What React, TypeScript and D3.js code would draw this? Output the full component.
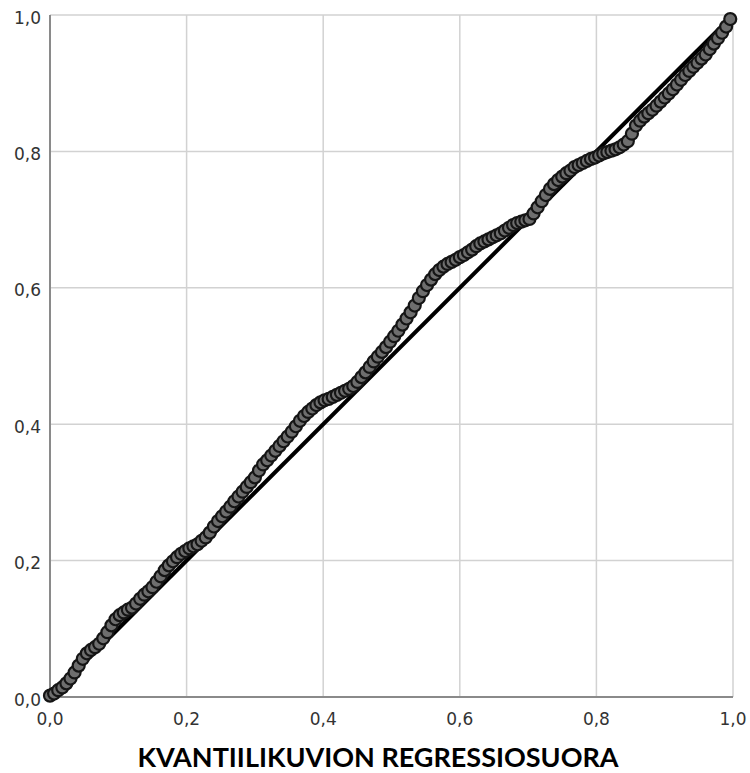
import React from "react";
import * as d3 from "d3";

const ticks = [0, 0.2, 0.4, 0.6, 0.8, 1.0];
const tickLabels = ["0,0", "0,2", "0,4", "0,6", "0,8", "1,0"];
const title = "KVANTIILIKUVION REGRESSIOSUORA";

const obsX = [
  0.000, 0.006, 0.012, 0.018, 0.024, 0.030, 0.036, 0.042, 0.048, 0.054, 0.060, 0.066, 0.072, 0.078, 0.084, 0.090,
  0.096, 0.102, 0.108, 0.114, 0.120, 0.126, 0.132, 0.138, 0.144, 0.150, 0.156, 0.162, 0.168, 0.174, 0.180, 0.186,
  0.192, 0.198, 0.204, 0.210, 0.216, 0.222, 0.228, 0.234, 0.240, 0.246, 0.252, 0.258, 0.264, 0.270, 0.276, 0.282,
  0.288, 0.294, 0.300, 0.306, 0.312, 0.318, 0.324, 0.330, 0.336, 0.342, 0.348, 0.354, 0.360, 0.366, 0.372, 0.378,
  0.384, 0.390, 0.396, 0.402, 0.408, 0.414, 0.420, 0.426, 0.432, 0.438, 0.444, 0.450, 0.456, 0.462, 0.468, 0.474,
  0.480, 0.486, 0.492, 0.498, 0.504, 0.510, 0.516, 0.522, 0.528, 0.534, 0.540, 0.546, 0.552, 0.558, 0.564, 0.570,
  0.576, 0.582, 0.588, 0.594, 0.600, 0.606, 0.612, 0.618, 0.624, 0.630, 0.636, 0.642, 0.648, 0.654, 0.660, 0.666,
  0.672, 0.678, 0.684, 0.690, 0.696, 0.702, 0.708, 0.714, 0.720, 0.726, 0.732, 0.738, 0.744, 0.750, 0.756, 0.762,
  0.768, 0.774, 0.780, 0.786, 0.792, 0.798, 0.804, 0.810, 0.816, 0.822, 0.828, 0.834, 0.840, 0.846, 0.852, 0.858,
  0.864, 0.870, 0.876, 0.882, 0.888, 0.894, 0.900, 0.906, 0.912, 0.918, 0.924, 0.930, 0.936, 0.942, 0.948, 0.954,
  0.960, 0.966, 0.972, 0.978, 0.984, 0.990, 0.996,
];

const obsY = [
  0.002, 0.005, 0.010, 0.014, 0.020, 0.027, 0.036, 0.046, 0.056, 0.064, 0.069, 0.073, 0.078, 0.086, 0.095, 0.105,
  0.114, 0.120, 0.124, 0.128, 0.131, 0.137, 0.144, 0.150, 0.155, 0.161, 0.169, 0.177, 0.186, 0.193, 0.199, 0.205,
  0.210, 0.214, 0.218, 0.221, 0.224, 0.229, 0.234, 0.241, 0.250, 0.258, 0.265, 0.272, 0.279, 0.287, 0.294, 0.301,
  0.308, 0.315, 0.322, 0.332, 0.341, 0.347, 0.354, 0.361, 0.368, 0.375, 0.382, 0.389, 0.397, 0.405, 0.412, 0.418,
  0.423, 0.428, 0.432, 0.435, 0.437, 0.440, 0.443, 0.446, 0.449, 0.452, 0.456, 0.462, 0.469, 0.476, 0.484, 0.492,
  0.499, 0.506, 0.513, 0.521, 0.529, 0.537, 0.546, 0.555, 0.564, 0.574, 0.585, 0.595, 0.604, 0.612, 0.620, 0.626,
  0.631, 0.635, 0.638, 0.641, 0.645, 0.648, 0.652, 0.656, 0.661, 0.665, 0.668, 0.671, 0.674, 0.677, 0.680, 0.684,
  0.688, 0.692, 0.695, 0.697, 0.699, 0.701, 0.709, 0.718, 0.727, 0.736, 0.745, 0.752, 0.758, 0.763, 0.768, 0.772,
  0.777, 0.780, 0.783, 0.786, 0.789, 0.791, 0.794, 0.797, 0.799, 0.801, 0.803, 0.806, 0.810, 0.815, 0.826, 0.838,
  0.845, 0.851, 0.856, 0.861, 0.867, 0.873, 0.879, 0.885, 0.891, 0.898, 0.905, 0.912, 0.918, 0.924, 0.930, 0.936,
  0.942, 0.950, 0.958, 0.966, 0.974, 0.983, 0.994,
];

const fitLine = [
  [0, 0],
  [1, 1],
];

export default function App() {
  const W = 750;
  const H = 773;
  const m = { left: 50, right: 733, top: 15, bottom: 697 };
  const x = d3.scaleLinear().domain([0, 1]).range([m.left, m.right]);
  const y = d3.scaleLinear().domain([0, 1]).range([m.bottom, m.top]);
  const line = d3
    .line<number[]>()
    .x((d) => x(d[0]))
    .y((d) => y(d[1]));
  const pts = obsX.map((v, i) => [v, obsY[i]]);
  const font = "'DejaVu Sans', Arial, sans-serif";

  return (
    <svg
      width={W}
      height={H}
      style={{ position: "absolute", left: 0, top: 0, background: "#fff" }}
    >
      <rect x={0} y={0} width={W} height={H} fill="#fff" />
      {ticks.map((t) => (
        <line
          key={"gx" + t}
          x1={x(t)}
          x2={x(t)}
          y1={y(0)}
          y2={y(1)}
          stroke="#d2d2d2"
          strokeWidth={1.5}
        />
      ))}
      {ticks.map((t) => (
        <line
          key={"gy" + t}
          x1={x(0)}
          x2={x(1)}
          y1={y(t)}
          y2={y(t)}
          stroke="#d2d2d2"
          strokeWidth={1.5}
        />
      ))}
      <line x1={x(0)} x2={x(0)} y1={y(0)} y2={y(1)} stroke="#8a8a8a" strokeWidth={2} />
      <line x1={x(0)} x2={x(1)} y1={y(0)} y2={y(0)} stroke="#8a8a8a" strokeWidth={2} />
      <path d={line(fitLine as number[][]) || ""} stroke="#000" strokeWidth={4} fill="none" />
      {pts.map((p, i) => (
        <circle
          key={i}
          cx={x(p[0])}
          cy={y(p[1])}
          r={6}
          fill="#6e6e6e"
          stroke="#151515"
          strokeWidth={2.2}
        />
      ))}
      {ticks.map((t, i) => (
        <text
          key={"yl" + t}
          x={41}
          y={y(t) + 3.5}
          textAnchor="end"
          dominantBaseline="middle"
          fontFamily={font}
          fontSize={17}
          fill="#333"
        >
          {tickLabels[i]}
        </text>
      ))}
      {ticks.map((t, i) => (
        <text
          key={"xl" + t}
          x={x(t)}
          y={720}
          textAnchor="middle"
          dominantBaseline="middle"
          fontFamily={font}
          fontSize={17}
          fill="#333"
        >
          {tickLabels[i]}
        </text>
      ))}
      <text
        x={378}
        y={767}
        textAnchor="middle"
        fontFamily="Lato, 'Open Sans', sans-serif"
        fontWeight="bold"
        fontSize={27}
        fill="#000"
      >
        {title}
      </text>
    </svg>
  );
}
